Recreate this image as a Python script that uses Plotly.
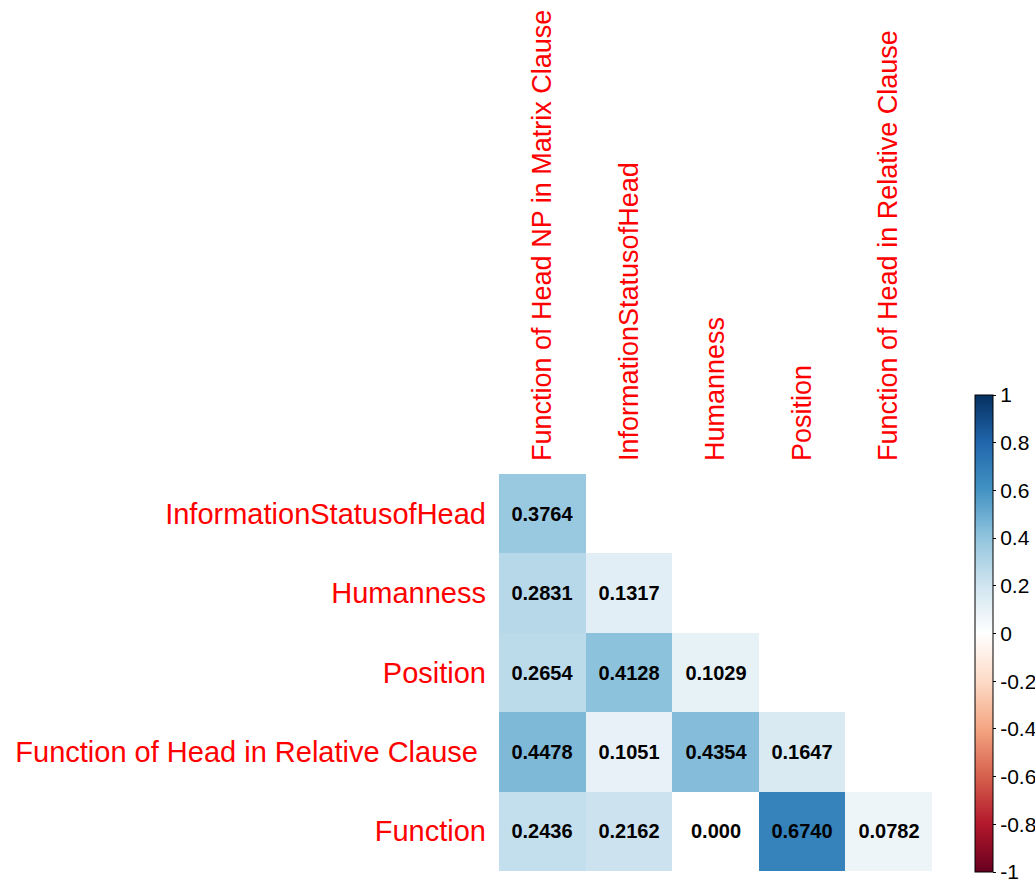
import plotly.graph_objects as go

# Variables on each axis of the lower-triangular correlation matrix
col_vars = [
    "Function of Head NP in Matrix Clause",
    "InformationStatusofHead",
    "Humanness",
    "Position",
    "Function of Head in Relative Clause",
]
row_vars = [
    "InformationStatusofHead",
    "Humanness",
    "Position",
    "Function of Head in Relative Clause ",
    "Function",
]

# Correlation coefficients, one list per row (None = upper triangle, not drawn)
r_info_status = [0.3764, None, None, None, None]
r_humanness = [0.2831, 0.1317, None, None, None]
r_position = [0.2654, 0.4128, 0.1029, None, None]
r_func_rel = [0.4478, 0.1051, 0.4354, 0.1647, None]
r_function = [0.2436, 0.2162, 0.000, 0.6740, 0.0782]

z = [r_info_status, r_humanness, r_position, r_func_rel, r_function]


def fmt(v):
    if v is None:
        return ""
    if v == 0:
        return "0.000"
    return f"{v:.4f}"


text = [[fmt(v) for v in row] for row in z]

# Diverging red-white-blue scale spanning -1..1
rdbu = ["#67001F", "#B2182B", "#D6604D", "#F4A582", "#FDDBC7", "#FFFFFF",
        "#D1E5F0", "#92C5DE", "#4393C3", "#2166AC", "#053061"]
colorscale = [[i / (len(rdbu) - 1), c] for i, c in enumerate(rdbu)]

cb_ticks = [1, 0.8, 0.6, 0.4, 0.2, 0, -0.2, -0.4, -0.6, -0.8, -1]
cb_ticktext = ["1", "0.8", "0.6", "0.4", "0.2", "0", "-0.2", "-0.4",
               "-0.6", "-0.8", "-1"]

W, H = 1035, 882
L, R, T, B = 499, 103, 474, 11
plot_w = W - L - R
plot_h = H - T - B

cb_left_px = 975
cb_center_px = 633.5

fig = go.Figure(
    go.Heatmap(
        z=z,
        x=col_vars,
        y=row_vars,
        text=text,
        texttemplate="%{text}",
        textfont=dict(family="Arial, Liberation Sans", size=20, color="black",
                      weight="bold"),
        colorscale=colorscale,
        zmin=-1,
        zmax=1,
        xgap=0,
        ygap=0,
        hoverongaps=False,
        colorbar=dict(
            x=(cb_left_px - L) / plot_w,
            xanchor="left",
            xpad=0,
            y=(H - B - cb_center_px) / plot_h,
            yanchor="middle",
            ypad=0,
            len=477,
            lenmode="pixels",
            thickness=18,
            outlinewidth=1,
            outlinecolor="black",
            tickmode="array",
            tickvals=cb_ticks,
            ticktext=cb_ticktext,
            ticks="outside",
            ticklen=3,
            tickcolor="black",
            ticklabeloverflow="allow",
            tickfont=dict(family="Arial, Liberation Sans", size=21, color="black"),
        ),
    )
)

fig.update_layout(
    width=W,
    height=H,
    margin=dict(l=L, r=R, t=T, b=B, autoexpand=False),
    paper_bgcolor="white",
    plot_bgcolor="white",
    font=dict(family="Arial, Liberation Sans"),
    xaxis=dict(
        side="top",
        tickangle=-90,
        ticks="",
        showgrid=False,
        zeroline=False,
        showline=False,
        automargin=False,
        ticklabelstandoff=12,
        tickfont=dict(size=27, color="#FF0000"),
    ),
    yaxis=dict(
        autorange="reversed",
        ticks="",
        showgrid=False,
        zeroline=False,
        showline=False,
        automargin=False,
        ticklabelstandoff=12,
        tickfont=dict(size=29, color="#FF0000"),
    ),
)

fig.write_html("out.html")
